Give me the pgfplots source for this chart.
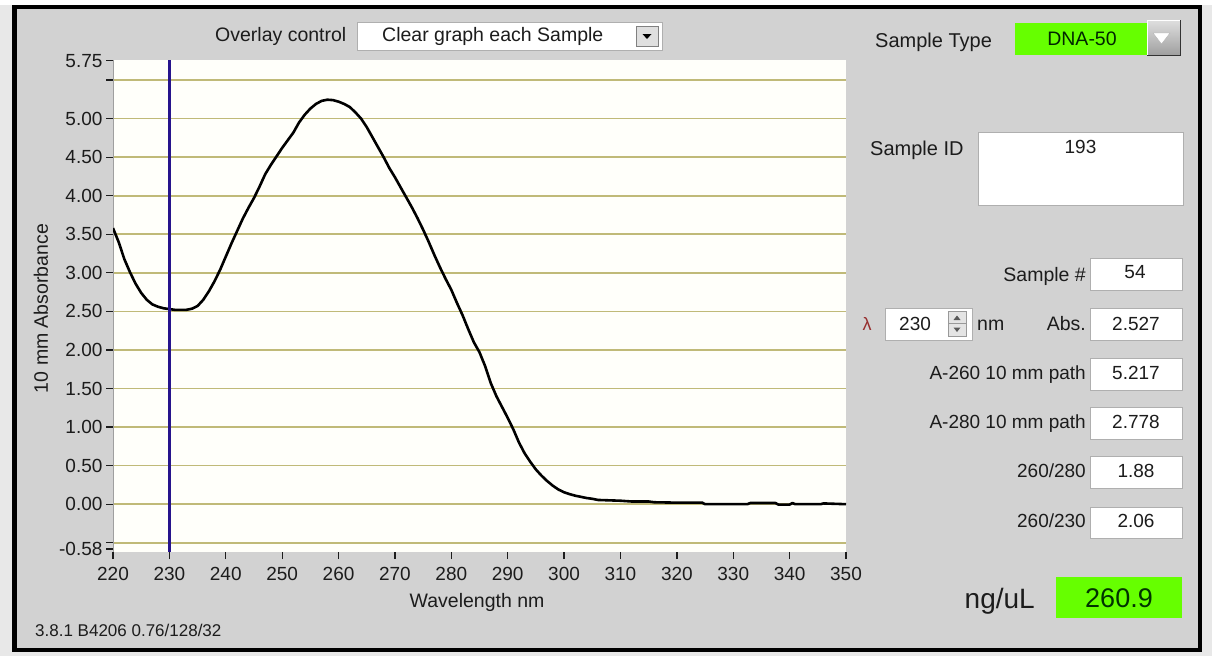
\documentclass[border=0pt]{standalone}
\usepackage{pgfplots}
\usepackage{pgfplotstable}
\pgfplotsset{compat=1.18}
\usepackage{fontspec}
\setmainfont{Liberation Sans}
\definecolor{outer}{RGB}{232,232,232}
\definecolor{panel}{RGB}{210,210,210}
\definecolor{gridc}{RGB}{192,186,120}
\definecolor{plotbg}{RGB}{255,255,250}
\definecolor{cursor}{RGB}{38,20,140}
\definecolor{lime}{RGB}{102,255,0}
\definecolor{txt}{RGB}{28,28,28}
\definecolor{boxedge}{RGB}{175,175,175}
\definecolor{lam}{RGB}{150,45,45}
\newcommand\fs[1]{\fontsize{#1}{#1}\selectfont}

\pgfplotstableread{
wl a
220 3.58
221 3.40
222 3.18
223 3.01
224 2.86
225 2.74
226 2.65
227 2.59
228 2.56
229 2.54
230 2.53
231 2.52
232 2.52
233 2.52
234 2.535
235 2.57
236 2.65
237 2.76
238 2.89
239 3.04
240 3.21
241 3.38
242 3.54
243 3.70
244 3.84
245 3.97
246 4.12
247 4.28
248 4.40
249 4.51
250 4.62
251 4.72
252 4.82
253 4.95
254 5.05
255 5.13
256 5.19
257 5.23
258 5.245
259 5.24
260 5.22
261 5.19
262 5.15
263 5.08
264 5.00
265 4.89
266 4.76
267 4.63
268 4.50
269 4.36
270 4.24
271 4.11
272 3.98
273 3.85
274 3.71
275 3.56
276 3.40
277 3.23
278 3.07
279 2.92
280 2.78
281 2.61
282 2.45
283 2.27
284 2.10
285 1.97
286 1.79
287 1.57
288 1.40
289 1.26
290 1.12
291 0.97
292 0.80
293 0.66
294 0.55
295 0.45
296 0.37
297 0.30
298 0.24
299 0.19
300 0.155
301 0.13
302 0.11
303 0.095
304 0.08
305 0.07
306 0.055
308 0.05
310 0.045
312 0.035
315 0.035
316 0.025
320 0.02
324.5 0.02
325 0.0
332.5 0.0
333 0.015
337.5 0.015
338 -0.005
340 -0.005
340.5 0.015
341 0.0
345.5 0.0
346 0.01
350 0.0
}\spectrum

\pgfplotstableread{
wl a
230 -0.62
230 5.76
}\cursorline

\begin{document}
\begin{tikzpicture}[x=1pt,y=-1pt]
\path[use as bounding box, fill=outer] (0,0) rectangle (1212,656);
\fill[white] (0,0) rectangle (1212,5);
\filldraw[fill=panel, draw=black, line width=4.5pt] (14.7,7.2) rectangle (1200,650);

% Overlay control
\node[anchor=base west, font=\fs{19.5}, text=txt, inner sep=0pt] at (215,41.5) {Overlay control};
\filldraw[fill=white, draw=boxedge, line width=0.8pt] (357,22) rectangle (662,50);
\node[anchor=base west, font=\fs{19.5}, text=txt, inner sep=0pt] at (382,41.5) {Clear graph each Sample};
\filldraw[fill=panel!70!white, draw=gray, line width=0.8pt] (636,26) rectangle (658,46);
\fill[black] (642.5,34) -- (651.5,34) -- (647,39) -- cycle;

\begin{axis}[
  at={(113pt,-552pt)}, anchor=south west,
  width=733pt, height=492pt, scale only axis,
  xmin=220, xmax=350, ymin=-0.62, ymax=5.76,
  axis background/.style={fill=plotbg},
  axis line style={draw=none},
  tick align=outside, xtick pos=bottom, ytick pos=left,
  major tick length=7pt,
  tick style={color=txt, line width=1.3pt},
  xtick={220,230,...,350},
  ytick={-0.5,0,0.5,1,1.5,2,2.5,3,3.5,4,4.5,5,5.5},
  yticklabels={{},0.00,0.50,1.00,1.50,2.00,2.50,3.00,3.50,4.00,4.50,5.00,{}},
  extra y ticks={-0.58,5.75},
  extra y tick labels={-0.58,5.75},
  extra y tick style={grid=none},
  ymajorgrids=true,
  major grid style={color=gridc, line width=1.6pt},
  /pgf/number format/assume math mode=true,
  ticklabel style={font=\fs{19}, text=txt},
  xticklabel style={yshift=-5pt},
  xlabel={Wavelength nm},
  ylabel={10 mm Absorbance},
  xlabel style={at={(axis description cs:0.4966,-0.1118)}, anchor=base, font=\fs{19.5}, text=txt, inner sep=0pt},
  ylabel style={at={(axis description cs:-0.0887,0.4949)}, anchor=base, font=\fs{19.5}, text=txt, inner sep=0pt},
  clip=true,
]
\draw[gray!75, line width=1.2pt] (rel axis cs:0,0) -- (rel axis cs:0,1);
\addplot[black, line width=2.6pt, line join=round, mark=none] table[x=wl, y=a] {\spectrum};
\addplot[cursor, line width=2.8pt, mark=none] table[x=wl, y=a] {\cursorline};
\end{axis}

\node[anchor=base west, font=\fs{17}, text=txt, inner sep=0pt] at (35,636) {3.8.1 B4206 0.76/128/32};

% right panel
\node[anchor=base west, font=\fs{20}, text=txt, inner sep=0pt] at (875,47) {Sample Type};
\fill[lime] (1015,23) rectangle (1147,55);
\node[anchor=base, font=\fs{19.5}, text=black!85!green, inner sep=0pt] at (1082,45) {DNA-50};
\shade[top color=gray!25, bottom color=gray!75] (1147,20) rectangle (1180,55);
\draw[white, line width=1pt] (1147,55) -- (1147,20) -- (1180,20);
\draw[gray!40!black, line width=1pt] (1180,20) -- (1180,55) -- (1147,55);
\filldraw[fill=white, draw=gray!60] (1153,33) -- (1170,33) -- (1161.5,44) -- cycle;

\node[anchor=base west, font=\fs{20}, text=txt, inner sep=0pt] at (870,155) {Sample ID};
\filldraw[fill=white, draw=boxedge, line width=0.8pt] (978,132) rectangle (1183,205);
\node[anchor=base, font=\fs{19}, text=txt, inner sep=0pt] at (1080.5,153) {193};

\node[anchor=base east, font=\fs{19.5}, text=txt, inner sep=0pt] at (1086,281) {Sample \#};
\filldraw[fill=white, draw=boxedge, line width=0.8pt] (1090,258) rectangle (1182,290);
\node[anchor=base, font=\fs{19}, text=txt, inner sep=0pt] at (1135,278) {54};

\node[anchor=base, font=\fs{18}, text=lam, inner sep=0pt] at (867,330) {λ};
\filldraw[fill=white, draw=boxedge, line width=0.8pt] (885,308) rectangle (972,340);
\node[anchor=base west, font=\fs{19}, text=txt, inner sep=0pt] at (899,330) {230};
\filldraw[fill=panel!60!white, draw=gray!80, line width=0.6pt] (948,311) rectangle (966,323.5);
\filldraw[fill=panel!60!white, draw=gray!80, line width=0.6pt] (948,323.5) rectangle (966,336);
\fill[gray!70!black] (953.5,320) -- (960.5,320) -- (957,315.5) -- cycle;
\fill[gray!70!black] (953.5,327.5) -- (960.5,327.5) -- (957,332) -- cycle;
\node[anchor=base west, font=\fs{19.5}, text=txt, inner sep=0pt] at (977,330) {nm};
\node[anchor=base east, font=\fs{19.5}, text=txt, inner sep=0pt] at (1086,330) {Abs.};
\filldraw[fill=white, draw=boxedge, line width=0.8pt] (1090,308) rectangle (1182,340);
\node[anchor=base, font=\fs{19}, text=txt, inner sep=0pt] at (1136,330) {2.527};

\node[anchor=base east, font=\fs{19}, text=txt, inner sep=0pt] at (1086,379) {A-260 10 mm path};
\filldraw[fill=white, draw=boxedge, line width=0.8pt] (1090,358) rectangle (1182,390);
\node[anchor=base, font=\fs{19}, text=txt, inner sep=0pt] at (1136,379) {5.217};

\node[anchor=base east, font=\fs{19}, text=txt, inner sep=0pt] at (1086,428) {A-280 10 mm path};
\filldraw[fill=white, draw=boxedge, line width=0.8pt] (1090,407) rectangle (1182,439);
\node[anchor=base, font=\fs{19}, text=txt, inner sep=0pt] at (1136,428) {2.778};

\node[anchor=base east, font=\fs{19}, text=txt, inner sep=0pt] at (1086,477) {260/280};
\filldraw[fill=white, draw=boxedge, line width=0.8pt] (1090,456) rectangle (1182,488);
\node[anchor=base, font=\fs{19}, text=txt, inner sep=0pt] at (1136,477) {1.88};

\node[anchor=base east, font=\fs{19}, text=txt, inner sep=0pt] at (1086,527) {260/230};
\filldraw[fill=white, draw=boxedge, line width=0.8pt] (1090,507) rectangle (1182,538);
\node[anchor=base, font=\fs{19}, text=txt, inner sep=0pt] at (1136,527) {2.06};

\node[anchor=base east, font=\fs{28}, text=txt, inner sep=0pt] at (1035,608) {ng/uL};
\fill[lime] (1056,577) rectangle (1182,618);
\node[anchor=base, font=\fs{27}, text=black!80!green, inner sep=0pt] at (1119,607) {260.9};
\end{tikzpicture}
\end{document}
